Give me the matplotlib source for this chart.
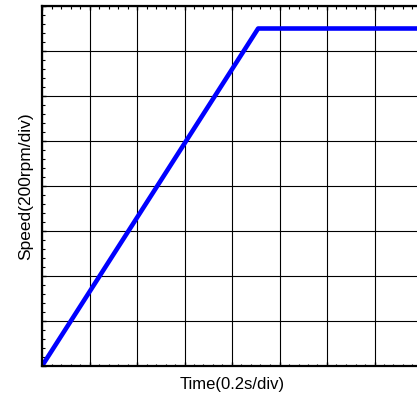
import numpy as np
import matplotlib.pyplot as plt
from matplotlib.ticker import MultipleLocator, NullFormatter

# speed ramp: time in s, speed in rpm
time_s = [0.0, 0.91, 1.8]
speed_rpm = [0, 1500, 1500]

plt.rcParams['font.family'] = ['Liberation Sans', 'DejaVu Sans']

fig = plt.figure(figsize=(4.17, 3.93), dpi=100)
ax = fig.add_axes([42 / 417, 27 / 393, 380 / 417, 360 / 393])

ax.plot(time_s, speed_rpm, color='#0000ff', lw=3.3, solid_capstyle='butt')

ax.set_xlim(0, 1.6)
ax.set_ylim(0, 1600)
ax.xaxis.set_major_locator(MultipleLocator(0.2))
ax.xaxis.set_minor_locator(MultipleLocator(0.04))
ax.yaxis.set_major_locator(MultipleLocator(200))
ax.yaxis.set_minor_locator(MultipleLocator(40))
ax.xaxis.set_major_formatter(NullFormatter())
ax.yaxis.set_major_formatter(NullFormatter())
ax.tick_params(which='both', direction='in', top=True, bottom=True, left=True, right=False, color='black')
ax.tick_params(which='major', length=3, width=1)
ax.tick_params(which='minor', length=1.8, width=0.8)

ax.grid(True, which='major', color='black', lw=0.8)

for s in ['top', 'bottom', 'left']:
    ax.spines[s].set_linewidth(1.6)
ax.spines['right'].set_visible(False)

ax.set_xlabel('Time(0.2s/div)', fontsize=12)
ax.xaxis.set_label_coords(0.5, -11 / 360)
ax.set_ylabel('Speed(200rpm/div)', fontsize=12.5)
ax.yaxis.set_label_coords(-9 / 380, 0.5)

fig.savefig('out.png', dpi=100)
